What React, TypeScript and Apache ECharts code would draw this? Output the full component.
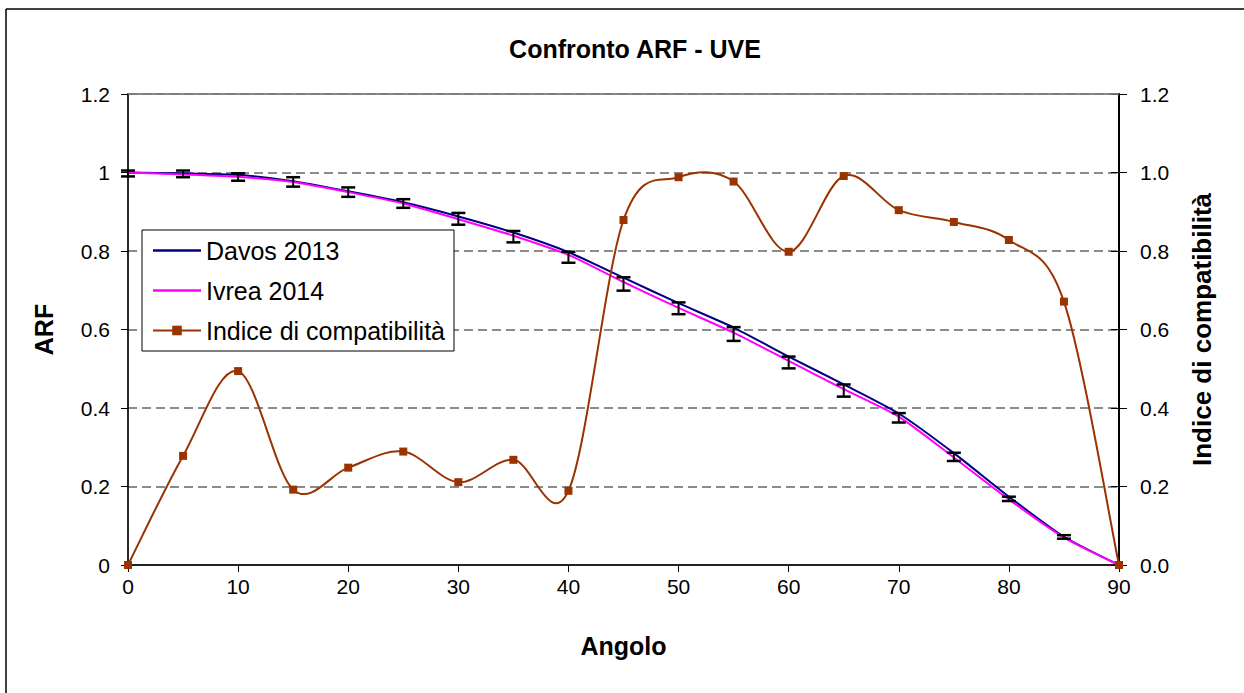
import React, { useEffect, useRef } from "react";
import * as echarts from "echarts";

const angles = [0, 5, 10, 15, 20, 25, 30, 35, 40, 45, 50, 55, 60, 65, 70, 75, 80, 85, 90];
const davos2013 = [1.0, 0.998, 0.994, 0.978, 0.952, 0.924, 0.888, 0.847, 0.797, 0.732, 0.667, 0.605, 0.531, 0.46, 0.386, 0.285, 0.174, 0.072, 0];
const ivrea2014 = [1.0, 0.995, 0.989, 0.976, 0.95, 0.921, 0.881, 0.839, 0.79, 0.721, 0.655, 0.592, 0.52, 0.448, 0.378, 0.274, 0.167, 0.07, 0];
const errLow = [0.99, 0.988, 0.979, 0.964, 0.938, 0.91, 0.867, 0.822, 0.77, 0.699, 0.639, 0.571, 0.501, 0.429, 0.363, 0.265, 0.163, 0.067, 0];
const errHigh = [1.005, 1.005, 0.998, 0.988, 0.962, 0.932, 0.897, 0.851, 0.798, 0.733, 0.669, 0.606, 0.531, 0.46, 0.387, 0.286, 0.174, 0.076, 0];
const compat = [0, 0.278, 0.494, 0.192, 0.248, 0.289, 0.211, 0.268, 0.189, 0.879, 0.988, 0.977, 0.798, 0.991, 0.904, 0.874, 0.828, 0.671, 0];

const FONT = "'Liberation Sans', Arial, sans-serif";
const LINE_ICON = "path://M0,0 L48,0 L48,2.4 L0,2.4 Z";
const BROWN = "#993300";

export default function App() {
  const ref = useRef<HTMLDivElement>(null);
  useEffect(() => {
    if (!ref.current) return;
    const chart = echarts.init(ref.current, undefined, { renderer: "svg" });
    const errData = angles
      .map((a, i) => [a, errLow[i], errHigh[i]])
      .filter((d) => d[2] > d[1]);
    const compatData = angles.map((a, i) => [a, compat[i]]);
    chart.setOption({
      animation: false,
      backgroundColor: "#fff",
      textStyle: { fontFamily: FONT },
      title: {
        text: "Confronto ARF - UVE",
        left: 630,
        top: 31,
        textAlign: "center",
        textStyle: { fontFamily: FONT, fontSize: 25, fontWeight: "bold", color: "#000" },
      },
      grid: {
        left: 128,
        top: 94,
        right: 125,
        bottom: 128,
        show: true,
        borderColor: "#808080",
        borderWidth: 1.5,
      },
      legend: {
        left: 142,
        top: 230,
        orient: "vertical",
        padding: [8, 9, 8, 10],
        itemGap: 15,
        itemWidth: 48,
        itemHeight: 12,
        borderColor: "#000",
        borderWidth: 1,
        backgroundColor: "#fff",
        textStyle: { fontFamily: FONT, fontSize: 25, color: "#000", lineHeight: 25 },
        data: [
          { name: "Davos 2013", icon: LINE_ICON, itemHeight: 2.4 },
          { name: "Ivrea 2014", icon: LINE_ICON, itemHeight: 2.4 },
          {
            name: "Indice di compatibilità",
            lineStyle: { color: BROWN, width: 2, opacity: 1 },
          },
        ],
      },
      xAxis: {
        type: "value",
        min: 0,
        max: 90,
        interval: 10,
        name: "Angolo",
        nameLocation: "middle",
        nameGap: 68,
        nameTextStyle: { fontFamily: FONT, fontSize: 25, fontWeight: "bold", color: "#000" },
        axisLine: { lineStyle: { color: "#222", width: 2 } },
        axisTick: { length: 7, lineStyle: { color: "#000", width: 1 } },
        axisLabel: { fontFamily: FONT, fontSize: 21, color: "#000", margin: 11 },
        splitLine: { show: false },
      },
      yAxis: [
        {
          type: "value",
          min: 0,
          max: 1.2,
          interval: 0.2,
          position: "left",
          name: "ARF",
          nameLocation: "middle",
          nameGap: 72,
          nameTextStyle: { fontFamily: FONT, fontSize: 25, fontWeight: "bold", color: "#000" },
          axisLine: { show: true, lineStyle: { color: "#000", width: 1.5 } },
          axisTick: { show: true, length: 7, lineStyle: { color: "#000", width: 1 } },
          axisLabel: {
            fontFamily: FONT,
            fontSize: 21,
            color: "#000",
            margin: 18,
            formatter: (v: number) => String(+v.toFixed(1)),
          },
          splitLine: {
            show: true,
            lineStyle: { color: "#666", width: 1.5, type: [9, 5] },
          },
        },
        {
          type: "value",
          min: 0,
          max: 1.2,
          interval: 0.2,
          position: "right",
          offset: 0,
          name: "Indice di compatibilità",
          nameLocation: "middle",
          nameGap: 70,
          nameRotate: 90,
          nameTextStyle: { fontFamily: FONT, fontSize: 26, fontWeight: "bold", color: "#000" },
          axisLine: { show: true, lineStyle: { color: "#000", width: 2 } },
          axisTick: { show: true, length: 8, lineStyle: { color: "#000", width: 1 } },
          axisLabel: {
            fontFamily: FONT,
            fontSize: 21,
            color: "#000",
            margin: 21,
            formatter: (v: number) => v.toFixed(1),
          },
          splitLine: { show: false },
        },
        {
          type: "value",
          min: 0,
          max: 1.2,
          interval: 0.2,
          position: "right",
          offset: 0,
          axisLine: { show: false },
          axisTick: { show: true, inside: true, length: 8, lineStyle: { color: "#000", width: 1 } },
          axisLabel: { show: false },
          splitLine: { show: false },
        },
      ],
      graphic: [
        {
          type: "line",
          shape: { x1: 6, y1: 9, x2: 6, y2: 693 },
          style: { stroke: "#000", lineWidth: 1.5 },
        },
        {
          type: "line",
          shape: { x1: 6, y1: 9, x2: 1244, y2: 9 },
          style: { stroke: "#000", lineWidth: 1.5 },
        },
        {
          type: "line",
          z: 10,
          shape: { x1: 128, y1: 94, x2: 1119, y2: 94 },
          style: { stroke: "#808080", lineWidth: 1.5 },
        },
      ],
      series: [
        {
          name: "Davos 2013",
          type: "line",
          yAxisIndex: 0,
          data: angles.map((a, i) => [a, davos2013[i]]),
          showSymbol: false,
          symbol: "none",
          smooth: 0.2,
          lineStyle: { color: "#000080", width: 2 },
          itemStyle: { color: "#000080" },
          z: 2,
        },
        {
          name: "Ivrea 2014",
          type: "line",
          yAxisIndex: 0,
          data: angles.map((a, i) => [a, ivrea2014[i]]),
          showSymbol: false,
          symbol: "none",
          smooth: 0.2,
          lineStyle: { color: "#ff00ff", width: 2 },
          itemStyle: { color: "#ff00ff" },
          z: 3,
        },
        {
          name: "errori",
          type: "custom",
          yAxisIndex: 0,
          data: errData,
          encode: { x: 0, y: [1, 2] },
          z: 4,
          renderItem: (params: any, api: any) => {
            const x = api.value(0);
            const lo = api.coord([x, api.value(1)]);
            const hi = api.coord([x, api.value(2)]);
            const w = 7;
            const style = { stroke: "#000", lineWidth: 2.5 };
            return {
              type: "group",
              children: [
                { type: "line", shape: { x1: lo[0], y1: lo[1], x2: hi[0], y2: hi[1] }, style: { stroke: "#000", lineWidth: 2 } },
                { type: "line", shape: { x1: lo[0] - w, y1: lo[1], x2: lo[0] + w, y2: lo[1] }, style },
                { type: "line", shape: { x1: hi[0] - w, y1: hi[1], x2: hi[0] + w, y2: hi[1] }, style },
              ],
            };
          },
        },
        {
          name: "curva",
          type: "custom",
          yAxisIndex: 1,
          data: compatData,
          encode: { x: 0, y: 1 },
          z: 5,
          silent: true,
          renderItem: (params: any, api: any) => {
            const i = params.dataIndex;
            const n = compatData.length;
            if (i >= n - 1) return null;
            const P = (k: number) => {
              const kk = Math.max(0, Math.min(n - 1, k));
              return api.coord(compatData[kk]);
            };
            const p0 = P(i - 1);
            const p1 = P(i);
            const p2 = P(i + 1);
            const p3 = P(i + 2);
            const t = 6;
            return {
              type: "bezierCurve",
              shape: {
                x1: p1[0],
                y1: p1[1],
                x2: p2[0],
                y2: p2[1],
                cpx1: p1[0] + (p2[0] - p0[0]) / t,
                cpy1: p1[1] + (p2[1] - p0[1]) / t,
                cpx2: p2[0] - (p3[0] - p1[0]) / t,
                cpy2: p2[1] - (p3[1] - p1[1]) / t,
              },
              style: { stroke: BROWN, lineWidth: 2, fill: "none" },
            };
          },
        },
        {
          name: "Indice di compatibilità",
          type: "line",
          yAxisIndex: 1,
          data: compatData,
          symbol: "rect",
          symbolSize: 8,
          showSymbol: true,
          lineStyle: { color: BROWN, width: 2, opacity: 0 },
          itemStyle: { color: BROWN },
          z: 6,
        },
      ],
    });
    return () => chart.dispose();
  }, []);
  return (
    <div
      ref={ref}
      style={{ position: "absolute", left: 0, top: 0, width: 1244, height: 693 }}
    />
  );
}
